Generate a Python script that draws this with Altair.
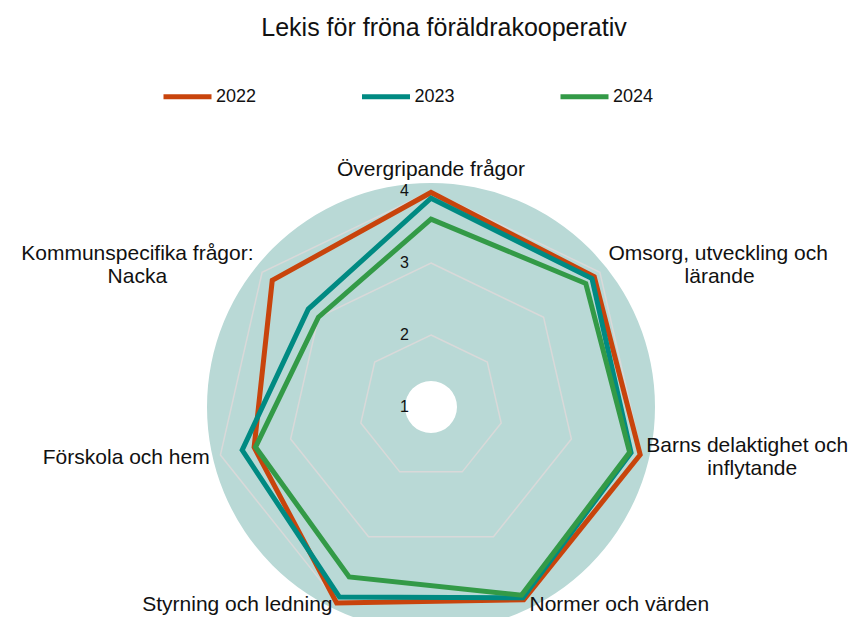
import altair as alt
import pandas as pd

TITLE = "Lekis för fröna föräldrakooperativ"
AXES = [
    ["Övergripande frågor"],
    ["Omsorg, utveckling och", "lärande"],
    ["Barns delaktighet och", "inflytande"],
    ["Normer och värden"],
    ["Styrning och ledning"],
    ["Förskola och hem"],
    ["Kommunspecifika frågor:", "Nacka"],
]
YEARS = ["2022", "2023", "2024"]
V2022 = [3.98, 3.90, 3.98, 3.97, 4.02, 3.52, 3.82]
V2023 = [3.90, 3.86, 3.85, 3.94, 3.93, 3.69, 3.18]
V2024 = [3.61, 3.75, 3.83, 3.90, 3.62, 3.50, 3.00]
RINGS = [2, 3, 4]
TICKS = [1, 2, 3, 4]
AXIS_MIN = 1
COLORS = ["#c8440c", "#008a82", "#339a47"]

FONT = "Liberation Sans"
TXT = "#111111"
W, H = 844, 609
PX = 72.0          # pixels per value unit
CX, CY = 423, 399  # plot-area position of the centre
N = len(AXES)
XMIN, XMAX = -CX / PX, (W - CX) / PX
YMIN, YMAX = -(H - CY) / PX, CY / PX

xs = alt.Scale(domain=[XMIN, XMAX], nice=False, zero=False)
ys = alt.Scale(domain=[YMIN, YMAX], nice=False, zero=False)

# ---- tables built from the arrays ----
series_rows = []
for yr, vals in zip(YEARS, [V2022, V2023, V2024]):
    for k in range(N + 2):          # one extra point so the closing vertex is joined
        i = k % N
        series_rows.append({"year": yr, "k": k, "idx": i, "value": vals[i]})
series_df = pd.DataFrame(series_rows)

ring_rows = []
for rv in RINGS:
    for k in range(N + 2):
        ring_rows.append({"ring": rv, "k": k, "idx": k % N, "value": rv})
ring_df = pd.DataFrame(ring_rows)

tick_df = pd.DataFrame({"value": TICKS, "label": [str(t) for t in TICKS]})

label_rows = []
for i, lines in enumerate(AXES):
    for li, line in enumerate(lines):
        label_rows.append({"idx": i, "li": li, "n": len(lines), "line": line,
                           "len0": len(lines[0])})
label_df = pd.DataFrame(label_rows)

centre_df = pd.DataFrame({"value": [AXIS_MIN]})


def polar(chart):
    return (chart
            .transform_calculate(ang=f"datum.idx * 2 * PI / {N}")
            .transform_calculate(px=f"(datum.value - {AXIS_MIN}) * sin(datum.ang)")
            .transform_calculate(py=f"(datum.value - {AXIS_MIN}) * cos(datum.ang)"))


X = alt.X("px:Q", scale=xs, axis=None)
Y = alt.Y("py:Q", scale=ys, axis=None)

# background disc with hole
bg = alt.Chart(centre_df).transform_calculate(px="0", py="0").mark_arc(
    outerRadius=224, innerRadius=26, theta=0, theta2=6.2832,
    color="#b9d9d6", stroke=None
).encode(x=X, y=Y)

rings = polar(alt.Chart(ring_df)).mark_line(
    color="#d9d9d9", strokeWidth=1.5, strokeJoin="miter"
).encode(x=X, y=Y, detail="ring:N", order="k:Q")

lines = polar(alt.Chart(series_df)).mark_line(
    strokeWidth=5, strokeJoin="miter"
).encode(
    x=X, y=Y, order="k:Q",
    color=alt.Color("year:N", scale=alt.Scale(domain=YEARS, range=COLORS),
                    legend=alt.Legend(
                        orient="none", legendX=153, legendY=62,
                        direction="horizontal", title=None,
                        symbolType="stroke", symbolSize=2304,
                        symbolStrokeWidth=5, labelFontSize=18,
                        labelFont=FONT, labelColor=TXT, labelOffset=2,
                        columnPadding=94.5)),
)

ticks = alt.Chart(tick_df).transform_calculate(
    px="0", py=f"datum.value - {AXIS_MIN}"
).mark_text(align="right", baseline="middle", dx=-22, fontSize=16,
            font=FONT, color=TXT).encode(x=X, y=Y, text="label:N")

R_LAB = 227 / PX
CHAR_W = 10.1     # average glyph width used to centre wrapped lines
FIT_W = 9.8       # glyph width used to keep labels inside the page
LINE_H = 23
BOTTOM_GAP = 12


def label_base():
    return (alt.Chart(label_df)
            .transform_calculate(ang=f"datum.idx * 2 * PI / {N}")
            .transform_calculate(s="sin(datum.ang)", c="cos(datum.ang)")
            .transform_calculate(xa=f"{R_LAB} * datum.s")
            .transform_calculate(
                edge=f"datum.s > 0.01 ? min(datum.xa, {XMAX} - datum.len0 * {FIT_W} / {PX}) : "
                     f"(datum.s < -0.01 ? max(datum.xa, {XMIN} + datum.len0 * {FIT_W} / {PX}) : datum.xa)")
            .transform_calculate(
                px=f"datum.li == 0 ? datum.edge : "
                   f"datum.edge + (datum.s > 0 ? 1 : -1) * datum.len0 * {CHAR_W} / 2 / {PX}",
                py=f"max({R_LAB} * datum.c + (abs(datum.s) < 0.01 ? 10 / {PX} : "
                   f"((datum.n - 1) / 2 - datum.li) * {LINE_H} / {PX}), {YMIN} + {BOTTOM_GAP} / {PX})"))


def lab(filt, align):
    return label_base().transform_filter(filt).mark_text(
        align=align, baseline="middle", fontSize=21, font=FONT, color=TXT
    ).encode(x=X, y=Y, text="line:N")


lab_left = lab("datum.s > 0.01 && datum.li == 0", "left")
lab_right = lab("datum.s < -0.01 && datum.li == 0", "right")
lab_center = lab("abs(datum.s) <= 0.01 || datum.li > 0", "center")

title = alt.Chart(pd.DataFrame({"t": [TITLE]})).mark_text(
    fontSize=25, font=FONT, color=TXT, align="center", baseline="middle"
).encode(x=alt.value(436), y=alt.value(20), text="t:N")

chart = alt.layer(bg, rings, lines, ticks, lab_left, lab_right, lab_center, title).properties(
    width=W, height=H, padding=0, autosize=alt.AutoSizeParams(type="none")
).configure_view(strokeWidth=0)

chart.save("out.html", embed_options={"renderer": "svg", "actions": False})
